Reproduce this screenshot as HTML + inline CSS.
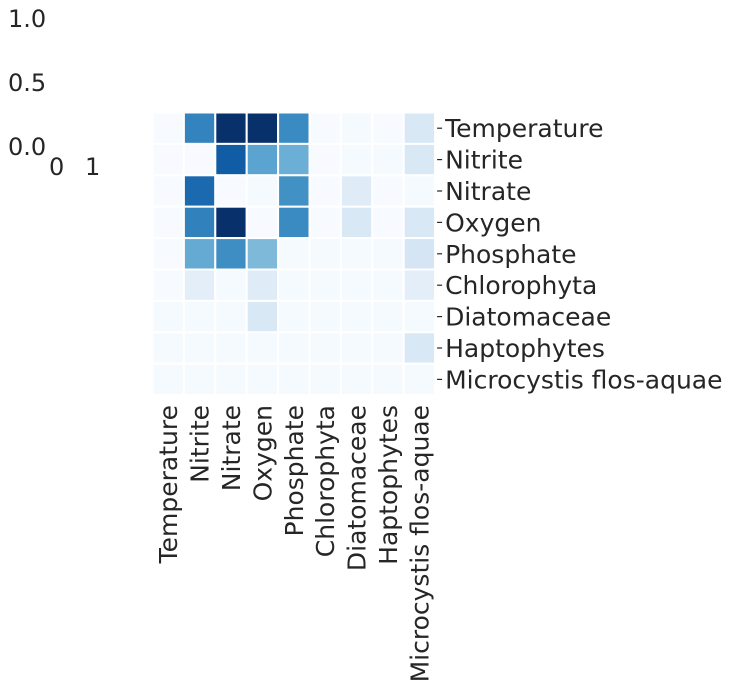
<!DOCTYPE html>
<html><head><meta charset="utf-8"><style>
body{margin:0;background:#fff;}
svg text{font-family:"DejaVu Sans","Liberation Sans",sans-serif;fill:#262626;}
</style></head><body>
<svg id="chart" width="730" height="690">
<text x="8" y="27" font-size="24">1.0</text>
<text x="8" y="91" font-size="24">0.5</text>
<text x="8" y="155" font-size="24">0.0</text>
<text x="49" y="175" font-size="24">0</text>
<text x="85" y="175" font-size="24">1</text>
<g id="cells"></g><g id="labels"></g>
</svg>
<script>
const categories=["Temperature","Nitrite","Nitrate","Oxygen","Phosphate","Chlorophyta","Diatomaceae","Haptophytes","Microcystis flos-aquae"];
const row0=[0,0.68,1,1,0.65,0,0.01,0,0.15];
const row1=[0,0,0.83,0.55,0.5,0,0.01,0.01,0.15];
const row2=[0,0.78,0,0.01,0.63,0,0.12,0,0.01];
const row3=[0,0.69,1,0,0.65,0,0.15,0,0.15];
const row4=[0,0.52,0.64,0.45,0.01,0.01,0.01,0.01,0.17];
const row5=[0,0.1,0.01,0.12,0.01,0.01,0.01,0.01,0.1];
const row6=[0.01,0.01,0.01,0.15,0.01,0.01,0.01,0.01,0.01];
const row7=[0.01,0.01,0.01,0.01,0.01,0.01,0.01,0.01,0.15];
const row8=[0.01,0.01,0.01,0.01,0.01,0.01,0.01,0.01,0.01];
const values=[row0,row1,row2,row3,row4,row5,row6,row7,row8];
const X0=152.5,Y0=112.5,CELL=31.4,N=categories.length;
const xPos=i=>X0+i*CELL, yPos=i=>Y0+i*CELL;
const stops=["#f7fbff","#deebf7","#c6dbef","#9ecae1","#6baed6","#4292c6","#2171b5","#08519c","#08306b"];
function h2r(h){return [1,3,5].map(i=>parseInt(h.substr(i,2),16));}
function color(v){v=Math.max(0,Math.min(1,v));const t=v*8,i=Math.min(7,Math.floor(t)),f=t-i;
const a=h2r(stops[i]),b=h2r(stops[i+1]);return "rgb("+a.map((c,k)=>Math.round(c+(b[k]-c)*f)).join(",")+")";}
const NS="http://www.w3.org/2000/svg";
const cg=document.getElementById("cells"),lg=document.getElementById("labels");
values.forEach((row,r)=>row.forEach((v,c)=>{
const el=document.createElementNS(NS,"rect");
el.setAttribute("x",xPos(c));el.setAttribute("y",yPos(r));
el.setAttribute("width",CELL);el.setAttribute("height",CELL);
el.setAttribute("fill",color(v));el.setAttribute("stroke","#fff");el.setAttribute("stroke-width","2");


cg.appendChild(el);}));
categories.forEach((name,i)=>{
const cy=yPos(i)+CELL/2;
const tk=document.createElementNS(NS,"line");
tk.setAttribute("x1",X0+N*CELL+2);tk.setAttribute("x2",X0+N*CELL+7);tk.setAttribute("y1",cy);tk.setAttribute("y2",cy);
tk.setAttribute("stroke","#262626");tk.setAttribute("stroke-width","1.2");


lg.appendChild(tk);
const t=document.createElementNS(NS,"text");
t.setAttribute("x",X0+N*CELL+10);t.setAttribute("y",cy+9);t.setAttribute("font-size","25");
t.textContent=name;


lg.appendChild(t);
const cx=xPos(i)+CELL/2;
const b=document.createElementNS(NS,"text");
b.setAttribute("transform","translate("+(cx+9)+",405) rotate(-90)");
b.setAttribute("text-anchor","end");b.setAttribute("font-size","25");
b.textContent=name;


lg.appendChild(b);
});
</script>
</body></html>
